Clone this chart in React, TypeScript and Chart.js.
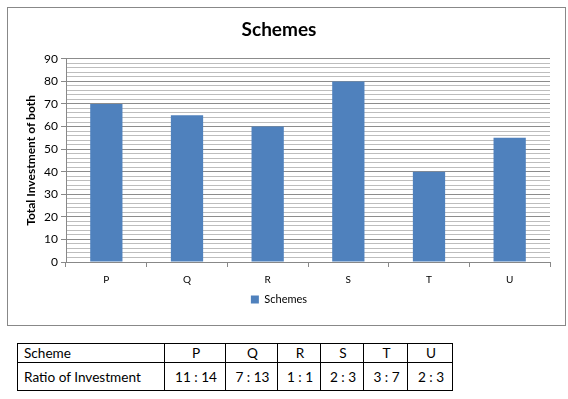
import React, { useEffect, useRef } from "react";
import { Chart, registerables } from "chart.js";

Chart.register(...registerables);

const categories = ["P", "Q", "R", "S", "T", "U"];
const seriesName = "Schemes";
const values = [70, 65, 60, 80, 40, 55];
const yMax = 90;
const majorStep = 10;
const minorStep = 2;

const tableHeader = ["Scheme", "P", "Q", "R", "S", "T", "U"];
const tableRow = ["Ratio of Investment", "11 : 14", "7 : 13", "1 : 1", "2 : 3", "3 : 7", "2 : 3"];
const colWidths = [147, 61, 52, 43, 43, 44, 45];

const FONT = "Lato, 'Open Sans', sans-serif";

export default function App() {
  const ref = useRef<HTMLCanvasElement | null>(null);

  useEffect(() => {
    document.body.style.margin = "0";
    const ctx = ref.current!;
    const chart = new Chart(ctx, {
      type: "bar",
      data: {
        labels: categories,
        datasets: [
          {
            label: seriesName,
            data: values,
            backgroundColor: "#4F81BD",
            borderWidth: 0,
            barPercentage: 0.4,
            categoryPercentage: 1,
          },
        ],
      },
      options: {
        responsive: false,
        animation: false,
        maintainAspectRatio: false,
        layout: { padding: { left: 0, right: 15, top: 0, bottom: 10 } },
        plugins: {
          title: {
            display: true,
            text: "Schemes",
            color: "#000",
            font: { family: FONT, size: 19, weight: "bold" },
            padding: { top: 10, bottom: 18 },
          },
          legend: {
            position: "bottom",
            labels: {
              boxWidth: 8,
              boxHeight: 8,
              color: "#000",
              font: { family: FONT, size: 11 },
              padding: 6,
            },
          },
          tooltip: { enabled: false },
        },
        scales: {
          x: {
            afterFit: (scale: any) => {
              scale.height = scale.height - 5;
            },
            grid: {
              display: true,
              drawOnChartArea: false,
              drawTicks: true,
              tickLength: 5,
              color: "#888",
              offset: true,
            },
            border: { color: "#888" },
            ticks: { color: "#000", font: { family: FONT, size: 10 }, padding: 7 },
          },
          y: {
            min: 0,
            max: yMax,
            afterFit: (scale: any) => {
              scale.width = 58;
            },
            title: {
              display: true,
              text: "Total Investment of both",
              color: "#000",
              font: { family: FONT, size: 12, weight: "bold" },
              padding: { top: 16, bottom: 4 },
            },
            border: { color: "#888" },
            grid: {
              color: (c: any) => (c.tick && c.tick.value % majorStep === 0 ? "#8c8c8c" : "#bdbdbd"),
              tickColor: (c: any) => (c.tick && c.tick.value % majorStep === 0 ? "#888" : "rgba(0,0,0,0)"),
              tickLength: 5,
            },
            ticks: {
              stepSize: minorStep,
              autoSkip: false,
              color: "#000",
              font: { family: FONT, size: 12 },
              padding: 3,
              callback: (v: any) => (Number(v) % majorStep === 0 ? String(v) : ""),
            },
          },
        },
      },
    });
    return () => chart.destroy();
  }, []);

  const cellBase: React.CSSProperties = {
    border: "1px solid #000",
    padding: "0 4px 0 6px",
    fontFamily: FONT,
    fontSize: 13.6,
    color: "#000",
    whiteSpace: "nowrap",
  };

  return (
    <div style={{ position: "relative", width: 568, height: 399, background: "#fff" }}>
      <div
        style={{
          position: "absolute",
          left: 7,
          top: 7,
          width: 557,
          height: 317,
          border: "1px solid #888",
        }}
      >
        <canvas ref={ref} width={557} height={317} style={{ display: "block" }} />
      </div>
      <table
        style={{
          position: "absolute",
          left: 17,
          top: 343,
          borderCollapse: "collapse",
          tableLayout: "fixed",
        }}
      >
        <colgroup>
          {colWidths.map((w, i) => (
            <col key={i} style={{ width: w }} />
          ))}
        </colgroup>
        <tbody>
          <tr style={{ height: 19 }}>
            {tableHeader.map((t, i) => (
              <td key={i} style={{ ...cellBase, textAlign: i === 0 ? "left" : "center" }}>
                {t}
              </td>
            ))}
          </tr>
          <tr style={{ height: 28 }}>
            {tableRow.map((t, i) => (
              <td key={i} style={{ ...cellBase, textAlign: i === 0 ? "left" : "center" }}>
                {t}
              </td>
            ))}
          </tr>
        </tbody>
      </table>
    </div>
  );
}
